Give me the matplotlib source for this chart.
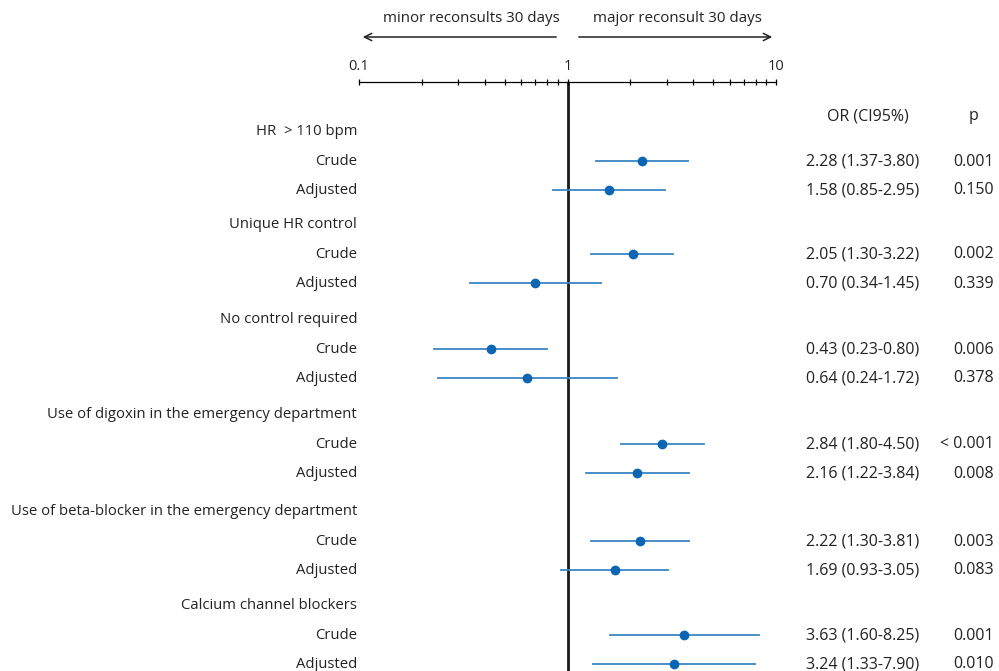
import matplotlib
matplotlib.use("Agg")
import matplotlib.pyplot as plt
from matplotlib.patches import FancyArrowPatch
from matplotlib.transforms import blended_transform_factory

plt.rcParams['font.family'] = ['Open Sans', 'DejaVu Sans']

groups = ["HR  > 110 bpm", "Unique HR control", "No control required",
          "Use of digoxin in the emergency department",
          "Use of beta-blocker in the emergency department",
          "Calcium channel blockers"]
kinds = ["Crude", "Adjusted"]
or_vals = [[2.28, 1.58], [2.05, 0.70], [0.43, 0.64], [2.84, 2.16], [2.22, 1.69], [3.63, 3.24]]
ci_low = [[1.37, 0.85], [1.30, 0.34], [0.23, 0.24], [1.80, 1.22], [1.30, 0.93], [1.60, 1.33]]
ci_high = [[3.80, 2.95], [3.22, 1.45], [0.80, 1.72], [4.50, 3.84], [3.81, 3.05], [8.25, 7.90]]
p_vals = [["0.001", "0.150"], ["0.002", "0.339"], ["0.006", "0.378"],
          ["< 0.001", "0.008"], ["0.003", "0.083"], ["0.001", "0.010"]]
tick_vals = [0.1, 1, 10]
tick_labels = ["0.1", "1", "10"]

# layout (pixel rows)
W, H = 999, 671
group_y = [130, 223, 318, 413, 510, 604]
sub_dy = [30, 59]
text_dy = 1.5

fig = plt.figure(figsize=(W / 100, H / 100), dpi=100)
x0, x1 = 359, 776
y_top = 82
ax = fig.add_axes([x0 / W, 0, (x1 - x0) / W, (H - y_top) / H])
ax.set_xscale('log')
ax.set_xlim(0.1, 10)
ax.set_ylim(H, y_top)

for s in ['left', 'right', 'bottom']:
    ax.spines[s].set_visible(False)
ax.spines['top'].set_linewidth(0.9)
ax.xaxis.tick_top()
ax.set_xticks(tick_vals)
ax.set_xticklabels(tick_labels, fontsize=10.5, color='#222222')
ax.tick_params(axis='x', which='both', direction='inout', length=5, width=0.9, pad=3)
ax.tick_params(axis='x', which='minor', labeltop=False)
ax.set_yticks([])

ax.axvline(1, color='#1a1a1a', lw=2, zorder=1)

line_col = '#3a86c6'
dot_col = '#0a66b2'
txt_col = '#222222'
tr = blended_transform_factory(fig.transFigure, ax.transData)
fs = 10.7
fs_num = 11.5
for gi, g in enumerate(groups):
    gy = group_y[gi]
    ax.text(357 / W, gy + text_dy, g, transform=tr, ha='right', va='center', fontsize=fs, color=txt_col)
    for k in range(2):
        y = gy + sub_dy[k]
        ax.text(357 / W, y + text_dy, kinds[k], transform=tr, ha='right', va='center', fontsize=fs, color=txt_col)
        ax.plot([ci_low[gi][k], ci_high[gi][k]], [y + 1, y + 1], color=line_col, lw=1.3, zorder=2)
        ax.plot([or_vals[gi][k]], [y + 1], 'o', color=dot_col, ms=6, zorder=3)
        txt = f"{or_vals[gi][k]:.2f} ({ci_low[gi][k]:.2f}-{ci_high[gi][k]:.2f})"
        ax.text(863 / W, y + text_dy, txt, transform=tr, ha='center', va='center', fontsize=fs_num, color=txt_col)
        ax.text(994 / W, y + text_dy, p_vals[gi][k], transform=tr, ha='right', va='center', fontsize=fs_num, color=txt_col)

ax.text(868 / W, 115 + text_dy, "OR (CI95%)", transform=tr, ha='center', va='center', fontsize=fs_num, color=txt_col)
ax.text(973 / W, 115 + text_dy, "p", transform=tr, ha='center', va='center', fontsize=fs_num, color=txt_col)

# direction arrows
arrow_y = 1 - 37 / H
fig.add_artist(FancyArrowPatch((559 / W, arrow_y), (360 / W, arrow_y),
               transform=fig.transFigure, arrowstyle='->', mutation_scale=13, lw=1.1, color=txt_col))
fig.add_artist(FancyArrowPatch((576 / W, arrow_y), (775 / W, arrow_y),
               transform=fig.transFigure, arrowstyle='->', mutation_scale=13, lw=1.1, color=txt_col))
fig.text(471 / W, 1 - 19 / H, "minor reconsults 30 days", ha='center', va='center', fontsize=10.9, color=txt_col)
fig.text(677 / W, 1 - 19 / H, "major reconsult 30 days", ha='center', va='center', fontsize=10.9, color=txt_col)

fig.savefig("out.png", dpi=100)
